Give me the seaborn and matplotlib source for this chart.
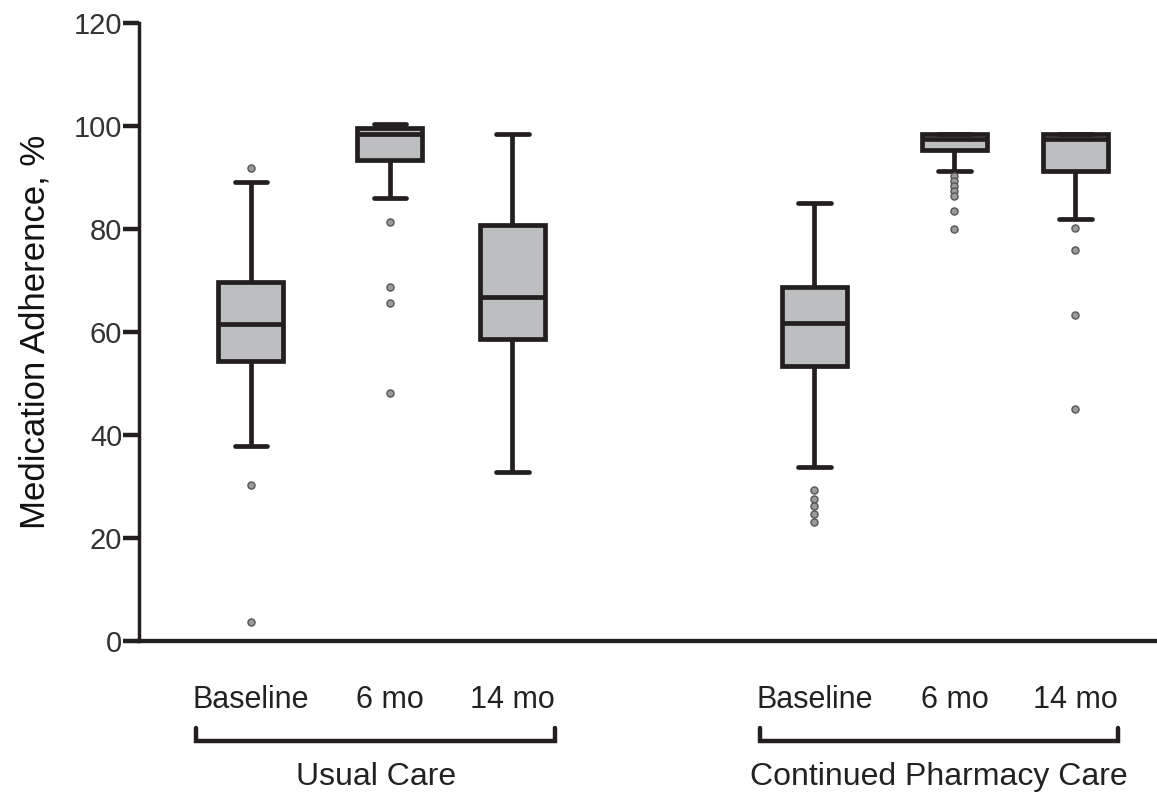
import pandas as pd
import seaborn as sns
import matplotlib.pyplot as plt
from matplotlib.transforms import blended_transform_factory

groups = ["Usual Care", "Continued Pharmacy Care"]
timepoints = ["Baseline", "6 mo", "14 mo"]

# box summaries, one entry per box:
# UC baseline, UC 6 mo, UC 14 mo, CPC baseline, CPC 6 mo, CPC 14 mo
whisker_low = [37.9, 86.1, 32.8, 33.8, 91.2, 81.9]
q1 = [54.4, 93.4, 58.6, 53.4, 95.4, 91.3]
median = [61.6, 98.5, 66.8, 61.7, 97.5, 97.5]
q3 = [69.8, 99.6, 80.8, 68.8, 98.4, 98.4]
whisker_high = [89.2, 100.5, 98.4, 85.0, 98.4, 98.4]

outliers = [
    [91.8, 30.2, 3.6],
    [81.4, 68.7, 65.6, 48.1],
    [],
    [29.2, 27.6, 26.1, 24.5, 23.0],
    [90.4, 89.4, 88.4, 87.4, 86.5, 83.6, 80.0],
    [80.2, 75.9, 63.3, 45.1],
]

# horizontal slot of each box (spacing is uneven in the original)
box_x = [2.51, 3.90, 5.125, 8.145, 9.545, 10.755]

# five-number summary per box -> whiskers drawn at min/max
box_rows = []
for i, x in enumerate(box_x):
    for v in (whisker_low[i], q1[i], median[i], q3[i], whisker_high[i]):
        box_rows.append({"x": x, "value": v})
box_df = pd.DataFrame(box_rows)

out_df = pd.DataFrame(
    [{"x": box_x[i], "value": v} for i in range(len(box_x)) for v in outliers[i]]
)

dark = "#231f20"
fill = "#bcbec0"

sns.set_style("ticks")
plt.rcParams["font.family"] = ["Liberation Sans", "DejaVu Sans"]

fig = plt.figure(figsize=(11.57, 7.93), dpi=100)
ax = fig.add_axes([0.1201, 0.1923, 0.8799, 0.7783])

sns.boxplot(data=box_df, x="x", y="value", native_scale=True, whis=(0, 100),
            width=0.537, color=fill, saturation=1, linecolor=dark,
            linewidth=3.4, showfliers=False, ax=ax)

sns.scatterplot(data=out_df, x="x", y="value", marker="o", s=26,
                color="#9a9a9a", edgecolor="#555555", linewidth=1,
                legend=False, zorder=4, ax=ax)

ax.set_xlim(1.39, 11.57)
ax.set_ylim(0, 120)
ax.set_yticks(range(0, 121, 20))
ax.set_xticks(box_x, timepoints * 2)
ax.tick_params(axis="x", length=0, pad=32, labelsize=22, labelcolor="#222222")
ax.tick_params(axis="y", length=11.5, width=3.2, color=dark, pad=0.5,
               labelsize=21, labelcolor="#333333")
sns.despine(ax=ax)
ax.spines["left"].set_linewidth(2.5)
ax.spines["bottom"].set_linewidth(3.1)
ax.spines["left"].set_color(dark)
ax.spines["bottom"].set_color(dark)

ax.set_xlabel("")
ax.set_ylabel("Medication Adherence, %", fontsize=25, color="#111111")
ax.yaxis.set_label_coords(-0.0855, 0.5)

# group brackets under the tick labels
trans = blended_transform_factory(ax.transData, fig.transFigure)
y_top = 1 - 728 / 793
y_bar = 1 - 741 / 793
spans = [(box_x[0] - 0.545, box_x[2] + 0.425), (box_x[3] - 0.545, box_x[5] + 0.425)]
for name, (x0, x1) in zip(groups, spans):
    ax.plot([x0, x0, x1, x1], [y_top, y_bar, y_bar, y_top], transform=trans,
            color=dark, lw=3.2, clip_on=False, solid_joinstyle="miter")
    ax.text((x0 + x1) / 2, 1 - 785 / 793, name, transform=trans, ha="center",
            va="baseline", fontsize=23, color="#222222")

fig.savefig("out.png", dpi=100)
